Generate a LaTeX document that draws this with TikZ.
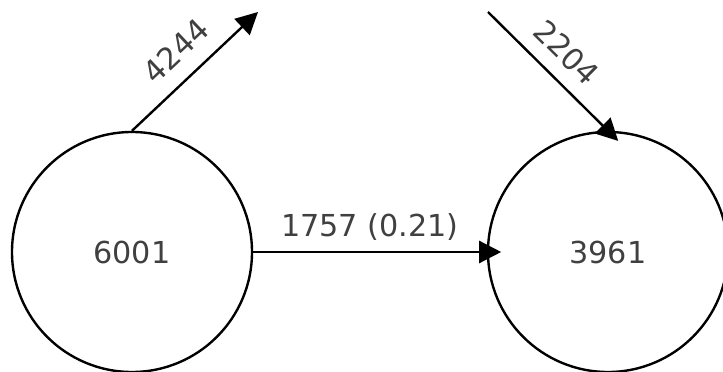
\documentclass[tikz,border=0pt]{standalone}
\usepackage{fontspec}
\setmainfont{DejaVu Sans}
\usetikzlibrary{arrows.meta, positioning}
\tikzstyle{state} = [draw, circle, minimum size=6cm, inner sep=0pt, line width=1.7pt, text=black!75]
\tikzstyle{flow} = [line width=1.7pt, shorten >=-0.36cm]
\tikzstyle{weight} = [inner sep=0pt, text=black!75]

\begin{document}
\begin{tikzpicture}[>={Triangle[length=0.55cm, width=0.55cm]}, font=\fontsize{21.5}{25}\selectfont]
    \useasboundingbox (-3.3,-3.0) rectangle (14.775,6.3);
    \node[state] (a) {6001};
    \node[state, right of=a, node distance=11.9cm] (b) {3961};
    \coordinate (out) at (3.15,6.0);
    \coordinate (in) at (8.9,6.0);
    \draw[->, flow] (a) -- node[weight, above=0.27cm] {1757 (0.21)} (b);
    \draw[->, line width=1.7pt] (a.north) -- node[weight, sloped, above=0.4cm] {4244} (out);
    \draw[->, flow] (in) -- node[weight, sloped, above=0.35cm] {2204} (b.north);
\end{tikzpicture}
\end{document}
